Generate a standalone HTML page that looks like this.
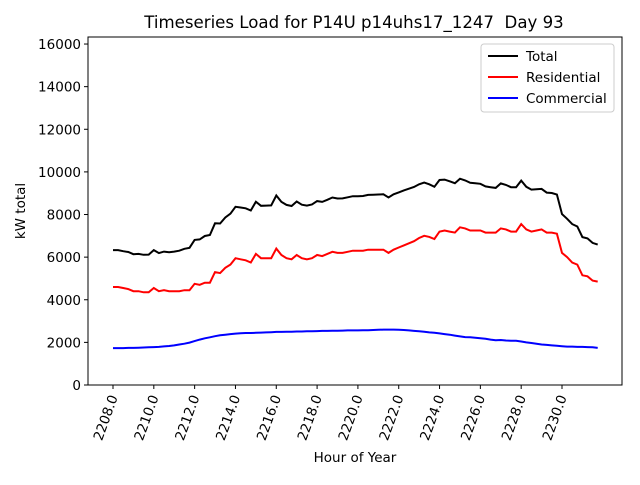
<!DOCTYPE html>
<html><head><meta charset="utf-8"><style>
body{margin:0;background:#fff}
svg{font-family:"DejaVu Sans","Liberation Sans",sans-serif}
</style></head><body>
<svg id="chart" width="640" height="480">
<rect width="640" height="480" fill="#fff"/>
<text x="354" y="28" font-size="16.6" text-anchor="middle" style="white-space:pre">Timeseries Load for P14U p14uhs17_1247&#160;&#160;Day 93</text>
<g id="ticks"></g>
<g id="lines"></g>
<rect x="88" y="37" width="534" height="348" fill="none" stroke="#000" stroke-width="1"/>
<text x="355" y="462" font-size="13.5" text-anchor="middle">Hour of Year</text>
<text transform="translate(25,211) rotate(-90)" font-size="13.5" text-anchor="middle">kW total</text>
<g>
<rect x="481" y="44" width="133" height="68" rx="3" fill="#fff" stroke="#ccc"/>
<g><line x1="488" x2="518" y1="56" y2="56" stroke="#000" stroke-width="2"/><text x="526" y="61" font-size="13.5">Total</text></g>
<g><line x1="488" x2="518" y1="77" y2="77" stroke="#f00" stroke-width="2"/><text x="526" y="82" font-size="13.5">Residential</text></g>
<g><line x1="488" x2="518" y1="98" y2="98" stroke="#00f" stroke-width="2"/><text x="526" y="103" font-size="13.5">Commercial</text></g>
</g>
</svg>
<script>
const startHour = 2208;
const stepHours = 0.25;
const residential = [
4600,4600,4550,4500, 4400,4400,4350,4350, 4550,4400,4450,4400, 4400,4400,4450,4450,
4750,4700,4800,4800, 5300,5250,5500,5650, 5950,5900,5850,5750, 6150,5950,5950,5950,
6400,6100,5950,5900, 6100,5950,5900,5950, 6100,6050,6150,6250, 6200,6200,6250,6300,
6300,6300,6350,6350, 6350,6350,6200,6350, 6450,6550,6650,6750, 6900,7000,6950,6850,
7200,7250,7200,7150, 7400,7350,7250,7250, 7250,7150,7150,7150, 7350,7300,7200,7200,
7550,7300,7200,7250, 7300,7150,7150,7100, 6200,6000,5750,5650, 5150,5100,4900,4850];
const commercial = [
1730,1730,1730,1740, 1740,1750,1760,1770, 1780,1790,1810,1830, 1860,1900,1940,1990,
2060,2130,2190,2240, 2290,2330,2360,2390, 2410,2430,2440,2440, 2450,2460,2470,2480,
2490,2490,2500,2500, 2510,2510,2520,2520, 2530,2540,2540,2550, 2550,2555,2560,2560,
2560,2570,2570,2580, 2590,2600,2600,2600, 2590,2580,2560,2540, 2520,2500,2470,2450,
2420,2390,2360,2320, 2280,2250,2240,2220, 2190,2170,2130,2100, 2110,2090,2080,2080,
2040,2000,1970,1940, 1900,1880,1860,1840, 1820,1800,1800,1790, 1790,1780,1770,1740];
const total = residential.map((v,i)=>v+commercial[i]);
const yTicks = [0,2000,4000,6000,8000,10000,12000,14000,16000];
const xTicks = [2208,2210,2212,2214,2216,2218,2220,2222,2224,2226,2228,2230];

const X0=88,X1=622,Y0=385,Y1=37;
const xMin=2206.775,xMax=2232.94,yMin=0,yMax=16330;
const xs=h=>X0+(h-xMin)/(xMax-xMin)*(X1-X0);
const ys=v=>Y0-(v-yMin)/(yMax-yMin)*(Y0-Y1);
const NS="http://www.w3.org/2000/svg";
const tg=document.getElementById('ticks');
yTicks.forEach(t=>{
  const y=ys(t);
  const l=document.createElementNS(NS,'line');
  l.setAttribute('x1',X0-4);l.setAttribute('x2',X0);l.setAttribute('y1',y);l.setAttribute('y2',y);l.setAttribute('stroke','#000');
  
  
  tg.appendChild(l);
  const tx=document.createElementNS(NS,'text');
  tx.setAttribute('x',X0-7);tx.setAttribute('y',y+5);tx.setAttribute('font-size','13.5');tx.setAttribute('text-anchor','end');
  tx.textContent=t;
  
  
  tg.appendChild(tx);
});
xTicks.forEach(t=>{
  const x=xs(t);
  const l=document.createElementNS(NS,'line');
  l.setAttribute('x1',x);l.setAttribute('x2',x);l.setAttribute('y1',Y0);l.setAttribute('y2',Y0+4);l.setAttribute('stroke','#000');
  
  
  tg.appendChild(l);
  const tx=document.createElementNS(NS,'text');
  tx.setAttribute('transform',`translate(${x+5},${Y0+12}) rotate(-70)`);
  tx.setAttribute('font-size','13.5');tx.setAttribute('text-anchor','end');
  tx.textContent=t.toFixed(1);
  
  
  tg.appendChild(tx);
});
const lg=document.getElementById('lines');
[[total,'#000','total-line'],[residential,'#f00','residential-line'],[commercial,'#00f','commercial-line']].forEach(([d,c,n])=>{
  const p=document.createElementNS(NS,'polyline');
  p.setAttribute('points',d.map((v,i)=>xs(startHour+i*stepHours).toFixed(1)+','+ys(v).toFixed(1)).join(' '));
  p.setAttribute('fill','none');p.setAttribute('stroke',c);p.setAttribute('stroke-width','2');
  
  
  lg.appendChild(p);
});
</script>
</body></html>
